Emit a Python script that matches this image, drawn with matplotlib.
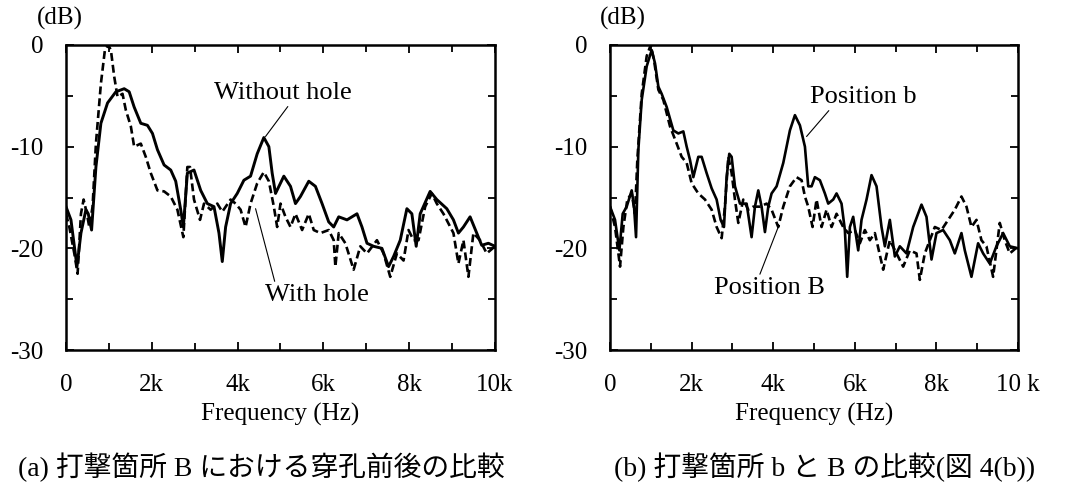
import matplotlib
matplotlib.use("Agg")
import matplotlib.pyplot as plt
import numpy as np

plt.rcParams['font.family'] = ['Liberation Serif', 'Noto Sans CJK JP']

# --- data (Hz, dB) ---
f_wo = [0, 116, 256, 349, 465, 519, 597, 698, 814, 969, 1163, 1357, 1473, 1589, 1744, 1899,
        2016, 2132, 2287, 2442, 2558, 2674, 2736, 2829, 2984, 3140, 3295, 3450, 3566, 3643,
        3721, 3837, 3992, 4147, 4302, 4457, 4612, 4729, 4806, 4884, 5078, 5233, 5349, 5465,
        5659, 5814, 5969, 6124, 6240, 6357, 6550, 6783, 6899, 7016, 7171, 7364, 7519, 7636,
        7791, 7946, 8062, 8163, 8256, 8488, 8643, 8876, 9031, 9147, 9264, 9419, 9574, 9690,
        9845, 10000]
db_wo = [-15.9, -17.2, -21.8, -18.5, -16.2, -16.6, -18.2, -12.0, -7.7, -5.7, -4.6, -4.3, -4.6,
         -6.1, -7.7, -7.9, -8.7, -10.3, -11.8, -12.3, -13.4, -16.2, -17.9, -12.6, -12.3, -14.3,
         -15.6, -15.9, -18.5, -21.3, -17.9, -15.6, -14.6, -13.3, -12.9, -10.7, -9.1, -10.0,
         -12.6, -14.6, -12.9, -13.9, -15.6, -14.9, -13.4, -13.9, -15.6, -17.4, -17.9, -16.9,
         -17.2, -16.6, -17.9, -19.5, -19.8, -20.0, -21.8, -20.8, -19.2, -16.1, -16.6, -19.8,
         -16.6, -14.4, -15.2, -16.1, -17.2, -18.5, -17.9, -16.9, -18.5, -19.7, -19.5, -19.8]

f_wh = [0, 78, 194, 271, 349, 411, 488, 543, 620, 698, 814, 907, 984, 1047, 1124, 1202, 1318,
        1395, 1512, 1589, 1744, 1860, 1977, 2132, 2287, 2442, 2597, 2736, 2829, 2891, 2984,
        3124, 3217, 3372, 3527, 3643, 3837, 3953, 4070, 4186, 4302, 4457, 4612, 4729, 4845,
        4922, 5000, 5116, 5233, 5349, 5504, 5659, 5775, 5930, 6124, 6240, 6279, 6357, 6512,
        6705, 6860, 7016, 7248, 7403, 7558, 7713, 7868, 7984, 8101, 8217, 8372, 8527, 8643,
        8798, 9031, 9147, 9264, 9380, 9496, 9651, 9806, 10000]
db_wh = [-16.6, -17.9, -20.5, -22.5, -16.6, -15.2, -16.6, -17.9, -15.9, -9.7, -3.8, -0.5, 0.0,
         -0.5, -3.1, -5.1, -4.8, -6.4, -8.0, -10.0, -9.7, -11.0, -12.6, -14.3, -14.4, -14.9,
         -16.2, -18.9, -12.0, -12.0, -15.2, -17.2, -15.6, -16.2, -15.6, -16.4, -15.2, -15.6,
         -16.2, -17.9, -15.6, -13.6, -12.5, -13.4, -15.9, -17.9, -15.6, -16.9, -17.9, -16.6,
         -18.2, -16.6, -18.2, -18.5, -18.2, -19.2, -21.8, -18.5, -19.5, -22.1, -19.8, -20.5,
         -19.2, -20.5, -22.8, -20.5, -21.2, -18.2, -19.2, -19.2, -15.9, -14.6, -15.6, -16.6,
         -18.5, -21.5, -19.2, -22.8, -18.5, -19.2, -20.5, -19.8]

f_pb = [0, 122, 229, 310, 408, 531, 588, 637, 694, 776, 898, 1020, 1102, 1184, 1265, 1388,
        1551, 1673, 1796, 1878, 1959, 2041, 2163, 2245, 2367, 2490, 2612, 2710, 2792, 2857,
        2922, 2980, 3061, 3184, 3347, 3469, 3551, 3633, 3714, 3796, 3878, 3959, 4082, 4245,
        4408, 4531, 4653, 4776, 4857, 4939, 5020, 5143, 5265, 5347, 5469, 5551, 5673, 5755,
        5812, 5878, 5959, 6082, 6163, 6286, 6408, 6531, 6653, 6735, 6857, 6980, 7102, 7265,
        7429, 7633, 7755, 7878, 8000, 8163, 8327, 8449, 8612, 8694, 8857, 9020, 9143, 9306,
        9469, 9633, 9796, 10000]
db_pb = [-15.9, -17.2, -20.2, -16.6, -15.9, -14.3, -15.9, -18.9, -10.3, -5.4, -2.1, -0.5, -1.8,
         -4.1, -4.8, -6.1, -8.4, -8.7, -8.5, -10.0, -11.3, -13.0, -11.0, -11.0, -12.6, -14.1,
         -15.2, -17.2, -17.9, -13.0, -10.7, -11.0, -13.9, -15.6, -15.6, -18.9, -15.9, -14.3,
         -15.9, -18.4, -15.9, -14.6, -13.9, -11.6, -8.4, -6.9, -7.9, -10.0, -13.9, -13.9,
         -13.0, -13.3, -14.6, -15.6, -15.2, -14.6, -15.6, -18.2, -22.8, -17.9, -16.9, -20.2,
         -17.2, -15.2, -12.8, -13.9, -17.9, -19.8, -17.2, -20.8, -19.8, -20.5, -17.9, -15.7,
         -16.9, -21.1, -18.5, -18.2, -19.2, -20.5, -18.5, -20.2, -22.8, -19.5, -20.5, -21.5,
         -19.8, -18.5, -19.8, -20.0]

f_pB = [0, 122, 245, 327, 424, 531, 612, 669, 776, 898, 996, 1078, 1184, 1306, 1469, 1633,
        1755, 1878, 2000, 2163, 2327, 2490, 2612, 2735, 2816, 2898, 2980, 3061, 3143, 3265,
        3388, 3510, 3673, 3837, 3959, 4122, 4245, 4408, 4571, 4694, 4776, 4857, 4963, 5061,
        5184, 5306, 5429, 5551, 5714, 5837, 6000, 6122, 6245, 6367, 6490, 6694, 6857, 7020,
        7184, 7347, 7510, 7592, 7714, 7837, 7959, 8122, 8286, 8449, 8612, 8735, 8857, 8980,
        9102, 9224, 9388, 9551, 9673, 9796, 10000]
db_pB = [-15.9, -17.9, -21.8, -17.9, -15.2, -14.6, -16.6, -11.3, -4.8, -1.1, 0.0, -1.5, -4.4,
         -5.4, -8.0, -9.7, -11.0, -11.6, -13.6, -14.6, -15.2, -16.2, -17.9, -19.0, -15.9,
         -11.0, -12.6, -15.2, -17.5, -15.2, -16.2, -15.9, -15.9, -15.6, -16.2, -17.9, -15.9,
         -13.9, -13.0, -13.3, -14.9, -15.9, -17.9, -15.2, -17.9, -16.2, -17.9, -16.6, -17.9,
         -18.5, -18.2, -19.5, -18.2, -19.2, -18.5, -22.1, -19.2, -20.5, -21.8, -20.2, -20.5,
         -23.1, -20.5, -19.2, -17.9, -18.2, -17.2, -16.2, -14.9, -15.9, -17.9, -17.2, -19.2,
         -19.8, -22.8, -17.5, -19.2, -20.5, -19.8]

xticks = [0, 2000, 4000, 6000, 8000, 10000]
xlabels_a = ['0', '2k', '4k', '6k', '8k', '10k']
xlabels_b = ['0', '2k', '4k', '6k', '8k', '10 k']
yticks = [0, -10, -20, -30]
ylabels = ['0', '-10', '-20', '-30']

fig = plt.figure(figsize=(10.71, 4.87), dpi=100)
ax1 = fig.add_axes([0.0616, 0.2813, 0.4006, 0.6263])
ax2 = fig.add_axes([0.5696, 0.2813, 0.3810, 0.6263])

def setup(ax, xlabels):
    ax.set_xlim(0, 10000)
    ax.set_ylim(-30, 0)
    ax.set_xticks(xticks)
    ax.set_xticklabels(xlabels)
    ax.set_xticks(np.arange(1000, 10000, 2000), minor=True)
    ax.set_yticks(yticks)
    ax.set_yticklabels(ylabels)
    ax.set_yticks([-5, -15, -25], minor=True)
    ax.tick_params(which='both', direction='in', top=True, right=True, width=1.3)
    ax.tick_params(which='major', length=6, labelsize=18)
    ax.tick_params(which='minor', length=5)
    ax.tick_params(axis='x', pad=17)
    ax.tick_params(axis='y', pad=16)
    for s in ax.spines.values():
        s.set_linewidth(1.8)
    ax.set_xlabel('Frequency (Hz)', fontsize=18, labelpad=5)

setup(ax1, xlabels_a)
setup(ax2, xlabels_b)
fig.text(60 / 1071, 0.962, '(dB)', fontsize=18, ha='center', va='center')
fig.text(623 / 1071, 0.962, '(dB)', fontsize=18, ha='center', va='center')

ax1.plot(f_wo, db_wo, color='black', lw=2.1)
ax1.plot(f_wh, db_wh, color='black', lw=1.9, ls=(0, (3, 1.5)))
ax2.plot(f_pb, db_pb, color='black', lw=1.9)
ax2.plot(f_pB, db_pB, color='black', lw=1.9, ls=(0, (3, 1.5)))

lp = dict(arrowstyle='-', lw=0.8, color='black', shrinkA=0, shrinkB=0)
ax1.annotate('Without hole', xy=(4651, -9.0), xytext=(5058, -4.7), fontsize=19,
             ha='center', va='center', arrowprops=dict(lp, relpos=(0.55, 0)))
ax1.annotate('With hole', xy=(4419, -16.1), xytext=(5850, -24.6), fontsize=19,
             ha='center', va='center', arrowprops=dict(lp, relpos=(0.1, 1)))
ax2.annotate('Position b', xy=(4816, -9.0), xytext=(6204, -5.1), fontsize=19,
             ha='center', va='center', arrowprops=dict(lp, relpos=(0.2, 0)))
ax2.annotate('Position B', xy=(4122, -17.9), xytext=(3918, -23.9), fontsize=19,
             ha='center', va='center', arrowprops=dict(lp, relpos=(0.4, 1)))

fig.text(261 / 1071, 0.04, '(a) 打撃箇所 B における穿孔前後の比較', fontsize=20,
         ha='center', va='center')
fig.text(825 / 1071, 0.04, '(b) 打撃箇所 b と B の比較(図 4(b))', fontsize=20,
         ha='center', va='center')

fig.savefig('out.png', dpi=100)
